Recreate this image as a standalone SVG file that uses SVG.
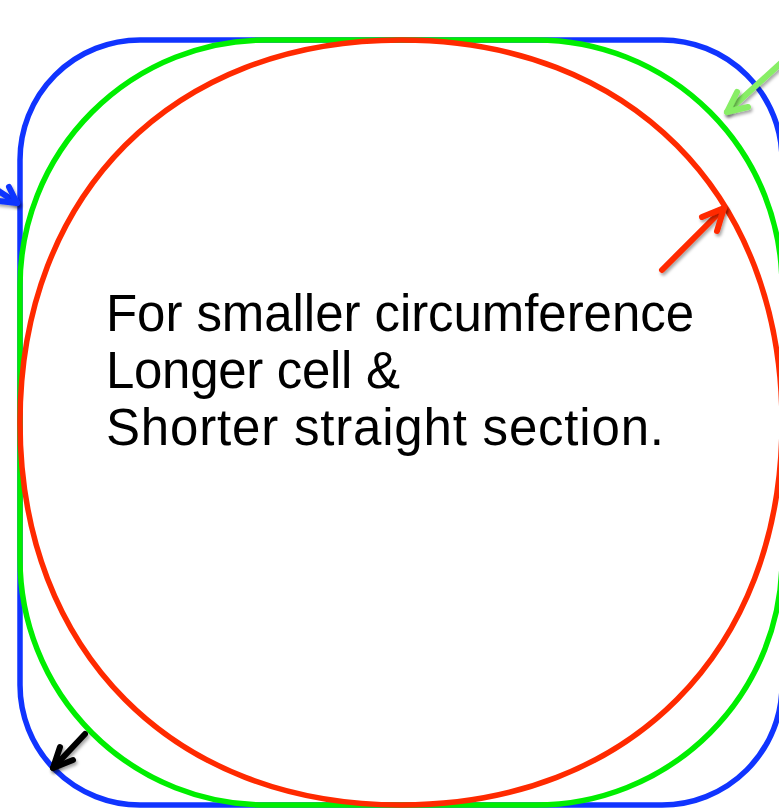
<svg xmlns="http://www.w3.org/2000/svg" width="779" height="808" viewBox="0 0 779 808">
  <defs>
    <style>
      .shape { fill: none; stroke-width: 5.5; }
      .blue { stroke: #1034ff; }
      .green { stroke: #00ee00; }
      .red { stroke: #ff2a00; }
      .arrow { fill: none; stroke-width: 6; stroke-linecap: round; stroke-linejoin: round; filter: url(#shadow); }
      .label { font-family: "Liberation Sans", Arial, sans-serif; font-size: 51px; fill: #000000; }
    </style>
    <filter id="shadow" x="-50%" y="-50%" width="200%" height="200%">
      <feDropShadow dx="1.5" dy="2.5" stdDeviation="1.5" flood-color="#000000" flood-opacity="0.35"/>
    </filter>
  </defs>
  <rect width="779" height="808" fill="#ffffff"/>
  <g id="outlines">
    <g id="blue-shape">
      <rect class="shape blue" x="20" y="40" width="762" height="765" rx="120" ry="120"/>
    </g>
    <g id="green-shape">
      <rect class="shape green" x="20" y="40" width="762" height="765" rx="246" ry="246"/>
    </g>
    <g id="red-shape">
      <path class="shape red" d="M401,40 C629,40 782,194 782,422.5 C782,651 629,805 401,805 C173,805 20,651 20,422.5 C20,194 173,40 401,40 Z"/>
    </g>
  </g>
  <g id="connectors">
    <g id="arrow-blue">
      <line class="arrow blue" x1="-12" y1="184" x2="17" y2="203"/>
      <polyline class="arrow blue" points="9,187 17,203 -1,201"/>
    </g>
    <g id="arrow-lightgreen">
      <line class="arrow" style="stroke:#88ee66" x1="782" y1="62" x2="727" y2="112"/>
      <polyline class="arrow" style="stroke:#88ee66" points="737,92 727,112 748,107"/>
    </g>
    <g id="arrow-red">
      <line class="arrow red" x1="662" y1="270" x2="724" y2="208"/>
      <polyline class="arrow red" points="702,217 724,208 717,231"/>
    </g>
    <g id="arrow-black">
      <line class="arrow" style="stroke:#000000" x1="85" y1="734" x2="53" y2="768"/>
      <polyline class="arrow" style="stroke:#000000" points="60,747 53,768 73,760"/>
    </g>
  </g>
  <g id="caption">
    <text class="label" x="106" y="331" textLength="588" lengthAdjust="spacing">For smaller circumference</text>
    <text class="label" x="106" y="388" textLength="294" lengthAdjust="spacing">Longer cell &amp;</text>
    <text class="label" x="106" y="445" textLength="558" lengthAdjust="spacing">Shorter straight section.</text>
  </g>
</svg>
